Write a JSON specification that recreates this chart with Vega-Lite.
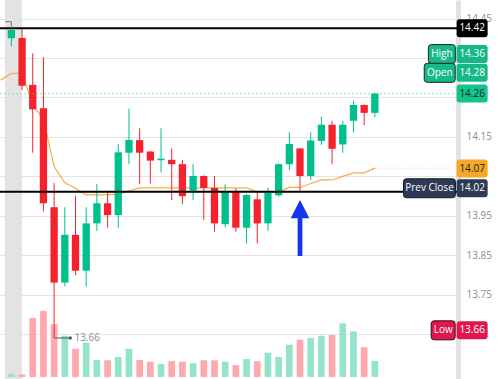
{
  "$schema": "https://vega.github.io/schema/vega-lite/v6.json",
  "width": 458,
  "height": 379,
  "autosize": {"type": "none"},
  "padding": {"left": 0, "top": 0, "right": 42, "bottom": 0},
  "background": "#ffffff",
  "config": {"view": {"stroke": null}},
  "datasets": {
    "candles": [
      {"i":0,"o":14.400,"h":14.423,"l":14.380,"c":14.421,"v":3},
      {"i":1,"o":14.401,"h":14.423,"l":14.269,"c":14.280,"v":2.5},
      {"i":2,"o":14.282,"h":14.362,"l":14.110,"c":14.220,"v":59},
      {"i":3,"o":14.223,"h":14.352,"l":13.961,"c":13.982,"v":66},
      {"i":4,"o":13.972,"h":14.033,"l":13.652,"c":13.781,"v":52.7},
      {"i":5,"o":13.781,"h":13.972,"l":13.771,"c":13.902,"v":41.3},
      {"i":6,"o":13.902,"h":14.001,"l":13.800,"c":13.811,"v":28.3},
      {"i":7,"o":13.811,"h":13.972,"l":13.771,"c":13.931,"v":34.3},
      {"i":8,"o":13.931,"h":14.031,"l":13.912,"c":13.982,"v":17},
      {"i":9,"o":13.982,"h":14.010,"l":13.920,"c":13.952,"v":16.7},
      {"i":10,"o":13.952,"h":14.132,"l":13.920,"c":14.111,"v":20},
      {"i":11,"o":14.110,"h":14.222,"l":14.081,"c":14.142,"v":28.3},
      {"i":12,"o":14.142,"h":14.172,"l":14.030,"c":14.110,"v":17},
      {"i":13,"o":14.113,"h":14.115,"l":14.032,"c":14.090,"v":15.3},
      {"i":14,"o":14.091,"h":14.172,"l":14.060,"c":14.095,"v":13},
      {"i":15,"o":14.092,"h":14.121,"l":13.990,"c":14.081,"v":16},
      {"i":16,"o":14.081,"h":14.092,"l":13.980,"c":14.000,"v":15.3},
      {"i":17,"o":14.014,"h":14.081,"l":13.990,"c":14.051,"v":13.7},
      {"i":18,"o":14.051,"h":14.053,"l":13.940,"c":14.021,"v":16.7},
      {"i":19,"o":14.021,"h":14.051,"l":13.910,"c":13.931,"v":16.7},
      {"i":20,"o":13.929,"h":14.030,"l":13.921,"c":14.011,"v":15.3},
      {"i":21,"o":14.011,"h":14.020,"l":13.910,"c":13.920,"v":12},
      {"i":22,"o":13.920,"h":14.005,"l":13.880,"c":14.003,"v":18},
      {"i":23,"o":13.992,"h":14.011,"l":13.880,"c":13.931,"v":15.7},
      {"i":24,"o":13.931,"h":14.022,"l":13.912,"c":14.009,"v":24.3},
      {"i":25,"o":14.002,"h":14.083,"l":13.999,"c":14.081,"v":20},
      {"i":26,"o":14.081,"h":14.162,"l":14.066,"c":14.132,"v":32.3},
      {"i":27,"o":14.121,"h":14.122,"l":14.014,"c":14.051,"v":37.3},
      {"i":28,"o":14.051,"h":14.162,"l":14.041,"c":14.141,"v":39},
      {"i":29,"o":14.140,"h":14.201,"l":14.130,"c":14.181,"v":41.3},
      {"i":30,"o":14.181,"h":14.191,"l":14.081,"c":14.120,"v":42},
      {"i":31,"o":14.131,"h":14.191,"l":14.110,"c":14.181,"v":53.7},
      {"i":32,"o":14.191,"h":14.242,"l":14.161,"c":14.231,"v":45.7},
      {"i":33,"o":14.231,"h":14.232,"l":14.180,"c":14.211,"v":29.7},
      {"i":34,"o":14.211,"h":14.262,"l":14.200,"c":14.260,"v":16}
    ],
    "ma": [
      {"i":-1,"ma":14.294},{"i":0,"ma":14.311},{"i":1,"ma":14.311},{"i":2,"ma":14.231},
      {"i":3,"ma":14.195},{"i":4,"ma":14.075},{"i":5,"ma":14.034},{"i":6,"ma":14.020},
      {"i":7,"ma":14.003},{"i":8,"ma":14.003},{"i":9,"ma":14.003},{"i":10,"ma":14.005},
      {"i":11,"ma":14.013},{"i":12,"ma":14.021},{"i":13,"ma":14.021},{"i":14,"ma":14.021},
      {"i":15,"ma":14.021},{"i":16,"ma":14.021},{"i":17,"ma":14.021},{"i":18,"ma":14.021},
      {"i":19,"ma":14.021},{"i":20,"ma":14.021},{"i":21,"ma":14.021},{"i":22,"ma":14.021},
      {"i":23,"ma":14.011},{"i":24,"ma":14.011},{"i":25,"ma":14.011},{"i":26,"ma":14.022},
      {"i":27,"ma":14.022},{"i":28,"ma":14.032},{"i":29,"ma":14.041},{"i":30,"ma":14.041},
      {"i":31,"ma":14.050},{"i":32,"ma":14.059},{"i":33,"ma":14.059},{"i":34,"ma":14.071}
    ],
    "levels": [{"level": 14.4252}, {"level": 14.0113}],
    "badges": [
      {"label":"14.42","value":14.4252,"kind":"line"},
      {"label":"14.36","value":14.36,"kind":"high"},
      {"label":"14.28","value":14.28,"kind":"open"},
      {"label":"14.26","value":14.26,"kind":"last"},
      {"label":"14.07","value":14.07,"kind":"ma"},
      {"label":"14.02","value":14.02,"kind":"prev"},
      {"label":"13.66","value":13.66,"kind":"low"}
    ],
    "tags": [
      {"tag":"High","value":14.36,"kind":"high"},
      {"tag":"Open","value":14.28,"kind":"open"},
      {"tag":"Prev Close","value":14.02,"kind":"prev"},
      {"tag":"Low","value":13.66,"kind":"low"}
    ]
  },
  "resolve": {"scale": {"y": "independent"}, "axis": {"y": "independent"}},
  "layer": [
    {
      "data": {"values": [{}]},
      "mark": {"type": "rect", "color": "#e3e3e3"},
      "encoding": {
        "x": {"datum": -0.595, "type": "quantitative", "scale": {"domain": [-0.595, 41.31], "nice": false, "zero": false}, "axis": null},
        "x2": {"datum": 0.99}
      }
    },
    {
      "data": {"name": "candles"},
      "mark": {"type": "bar", "width": 6.7},
      "encoding": {
        "x": {"field": "i", "type": "quantitative", "scale": {"domain": [-0.595, 41.31], "nice": false, "zero": false}, "axis": null},
        "y": {"field": "v", "type": "quantitative", "scale": {"domain": [-2, 377], "nice": false, "zero": false}, "axis": null},
        "y2": {"datum": 0},
        "color": {"condition": {"test": "datum.c >= datum.o", "value": "#95e3ca"}, "value": "#ffa8ad"}
      }
    },
    {
      "data": {"name": "ma"},
      "mark": {"type": "line", "color": "#f5ad45", "strokeWidth": 1.2, "clip": true},
      "encoding": {
        "x": {"field": "i", "type": "quantitative", "scale": {"domain": [-0.595, 41.31], "nice": false, "zero": false},
              "axis": {"values": [4, 10, 16, 22, 28, 34, 40], "grid": true, "gridColor": "#e4e4e4", "labels": false, "ticks": false, "domain": false, "title": null}},
        "y": {"field": "ma", "type": "quantitative", "scale": {"domain": [13.5367, 14.497], "nice": false, "zero": false},
              "axis": {"orient": "right", "values": [13.65, 13.75, 13.85, 13.95, 14.05, 14.15, 14.25, 14.35, 14.45], "format": ".2f",
                       "labelExpr": "indexof(['14.45','14.15','13.95','13.85','13.75'], datum.label) >= 0 ? datum.label : ''",
                       "grid": true, "gridColor": "#e4e4e4", "ticks": false, "tickSize": 0, "domain": true, "domainColor": "#e2e2e2", "domainWidth": 5,
                       "labelPadding": 8, "labelColor": "#8c8c8c", "labelFont": "Open Sans", "labelFontSize": 10, "title": null}}
      }
    },
    {
      "data": {"name": "candles"},
      "mark": {"type": "rule", "strokeWidth": 1},
      "encoding": {
        "x": {"field": "i", "type": "quantitative", "scale": {"domain": [-0.595, 41.31], "nice": false, "zero": false}, "axis": null},
        "y": {"field": "l", "type": "quantitative", "scale": {"domain": [13.5367, 14.497], "nice": false, "zero": false}, "axis": null},
        "y2": {"field": "h"},
        "color": {"condition": {"test": "datum.c >= datum.o", "value": "#00bf8c"}, "value": "#f5222d"}
      }
    },
    {
      "data": {"name": "candles"},
      "mark": {"type": "bar", "width": 7.3},
      "encoding": {
        "x": {"field": "i", "type": "quantitative", "scale": {"domain": [-0.595, 41.31], "nice": false, "zero": false}, "axis": null},
        "y": {"field": "o", "type": "quantitative", "scale": {"domain": [13.5367, 14.497], "nice": false, "zero": false}, "axis": null},
        "y2": {"field": "c"},
        "color": {"condition": {"test": "datum.c >= datum.o", "value": "#00bf8c"}, "value": "#f5222d"}
      }
    },
    {
      "data": {"values": [{}]},
      "mark": {"type": "rule", "color": "#f5ad45", "opacity": 0.6, "strokeDash": [1, 2], "strokeWidth": 1},
      "encoding": {
        "x": {"datum": 34, "type": "quantitative", "scale": {"domain": [-0.595, 41.31], "nice": false, "zero": false}, "axis": null},
        "x2": {"datum": 41.31},
        "y": {"datum": 14.071, "type": "quantitative", "scale": {"domain": [13.5367, 14.497], "nice": false, "zero": false}, "axis": null}
      }
    },
    {
      "data": {"values": [{}]},
      "mark": {"type": "rule", "color": "#3cc79b", "opacity": 0.75, "strokeDash": [1.5, 2.5], "strokeWidth": 1},
      "encoding": {
        "y": {"datum": 14.2596, "type": "quantitative", "scale": {"domain": [13.5367, 14.497], "nice": false, "zero": false}, "axis": null}
      }
    },
    {
      "data": {"name": "levels"},
      "mark": {"type": "rule", "color": "#000000", "strokeWidth": 2},
      "encoding": {
        "y": {"field": "level", "type": "quantitative", "scale": {"domain": [13.5367, 14.497], "nice": false, "zero": false}, "axis": null}
      }
    },
    {
      "data": {"values": [{}]},
      "mark": {"type": "rule", "color": "#5a5a5a", "strokeWidth": 1},
      "encoding": {
        "x": {"datum": 4, "type": "quantitative", "scale": {"domain": [-0.595, 41.31], "nice": false, "zero": false}, "axis": null},
        "y": {"datum": 13.652, "type": "quantitative", "scale": {"domain": [13.5367, 14.497], "nice": false, "zero": false}, "axis": null},
        "y2": {"datum": 13.6406}
      }
    },
    {
      "data": {"values": [{}]},
      "mark": {"type": "rule", "color": "#5a5a5a", "strokeWidth": 1},
      "encoding": {
        "x": {"datum": 4, "type": "quantitative", "scale": {"domain": [-0.595, 41.31], "nice": false, "zero": false}, "axis": null},
        "x2": {"datum": 5.51},
        "y": {"datum": 13.6406, "type": "quantitative", "scale": {"domain": [13.5367, 14.497], "nice": false, "zero": false}, "axis": null}
      }
    },
    {
      "data": {"values": [{}]},
      "mark": {"type": "point", "shape": "circle", "filled": true, "size": 12, "color": "#5a5a5a", "opacity": 1},
      "encoding": {
        "x": {"datum": 5.51, "type": "quantitative", "scale": {"domain": [-0.595, 41.31], "nice": false, "zero": false}, "axis": null},
        "y": {"datum": 13.6406, "type": "quantitative", "scale": {"domain": [13.5367, 14.497], "nice": false, "zero": false}, "axis": null}
      }
    },
    {
      "data": {"values": [{}]},
      "mark": {"type": "text", "align": "left", "baseline": "middle", "font": "Open Sans", "fontSize": 10, "color": "#8c8c8c"},
      "encoding": {
        "x": {"datum": 5.9, "type": "quantitative", "scale": {"domain": [-0.595, 41.31], "nice": false, "zero": false}, "axis": null},
        "y": {"datum": 13.6406, "type": "quantitative", "scale": {"domain": [13.5367, 14.497], "nice": false, "zero": false}, "axis": null},
        "text": {"value": "13.66"}
      }
    },
    {
      "data": {"values": [{}]},
      "mark": {"type": "rule", "color": "#777777", "strokeWidth": 1},
      "encoding": {
        "x": {"datum": 0, "type": "quantitative", "scale": {"domain": [-0.595, 41.31], "nice": false, "zero": false}, "axis": null},
        "y": {"datum": 14.4252, "type": "quantitative", "scale": {"domain": [13.5367, 14.497], "nice": false, "zero": false}, "axis": null},
        "y2": {"datum": 14.442}
      }
    },
    {
      "data": {"values": [{}]},
      "mark": {"type": "rule", "color": "#777777", "strokeWidth": 1},
      "encoding": {
        "x": {"datum": -0.595, "type": "quantitative", "scale": {"domain": [-0.595, 41.31], "nice": false, "zero": false}, "axis": null},
        "x2": {"datum": 0},
        "y": {"datum": 14.442, "type": "quantitative", "scale": {"domain": [13.5367, 14.497], "nice": false, "zero": false}, "axis": null}
      }
    },
    {
      "data": {"name": "badges"},
      "transform": [{"filter": "datum.kind !== 'open'"}],
      "mark": {"type": "point", "filled": true, "opacity": 1, "size": 961,
               "shape": "M-0.806,-0.581H0.806Q1,-0.581 1,-0.387V0.387Q1,0.581 0.806,0.581H-0.806Q-1,0.581 -1,0.387V-0.387Q-1,-0.581 -0.806,-0.581Z"},
      "encoding": {
        "x": {"datum": 43.1, "type": "quantitative", "scale": {"domain": [-0.595, 41.31], "nice": false, "zero": false}, "axis": null},
        "y": {"field": "value", "type": "quantitative", "scale": {"domain": [13.5367, 14.497], "nice": false, "zero": false}, "axis": null},
        "fill": {"field": "kind", "type": "nominal", "legend": null,
                 "scale": {"domain": ["line", "high", "open", "last", "ma", "prev", "low"],
                           "range": ["#000000", "#16b888", "#16b888", "#12c48e", "#f6a726", "#2d3a56", "#e0174f"]}}
      }
    },
    {
      "data": {"name": "badges"},
      "transform": [{"filter": "datum.kind !== 'open'"}],
      "mark": {"type": "text", "align": "center", "baseline": "middle", "font": "Open Sans", "fontSize": 10},
      "encoding": {
        "x": {"datum": 43.1, "type": "quantitative", "scale": {"domain": [-0.595, 41.31], "nice": false, "zero": false}, "axis": null},
        "y": {"field": "value", "type": "quantitative", "scale": {"domain": [13.5367, 14.497], "nice": false, "zero": false}, "axis": null},
        "text": {"field": "label"},
        "color": {"condition": {"test": "datum.kind === 'last' || datum.kind === 'ma'", "value": "#10231c"}, "value": "#ffffff"}
      }
    },
    {
      "data": {"name": "badges"},
      "transform": [{"filter": "datum.kind === 'open'"}],
      "mark": {"type": "point", "filled": true, "opacity": 1, "size": 961, "yOffset": -12.8,
               "shape": "M-0.806,-0.581H0.806Q1,-0.581 1,-0.387V0.387Q1,0.581 0.806,0.581H-0.806Q-1,0.581 -1,0.387V-0.387Q-1,-0.581 -0.806,-0.581Z"},
      "encoding": {
        "x": {"datum": 43.1, "type": "quantitative", "scale": {"domain": [-0.595, 41.31], "nice": false, "zero": false}, "axis": null},
        "y": {"field": "value", "type": "quantitative", "scale": {"domain": [13.5367, 14.497], "nice": false, "zero": false}, "axis": null},
        "fill": {"field": "kind", "type": "nominal", "legend": null,
                 "scale": {"domain": ["line", "high", "open", "last", "ma", "prev", "low"],
                           "range": ["#000000", "#16b888", "#16b888", "#12c48e", "#f6a726", "#2d3a56", "#e0174f"]}}
      }
    },
    {
      "data": {"name": "badges"},
      "transform": [{"filter": "datum.kind === 'open'"}],
      "mark": {"type": "text", "align": "center", "baseline": "middle", "font": "Open Sans", "fontSize": 10, "yOffset": -12.8, "color": "#ffffff"},
      "encoding": {
        "x": {"datum": 43.1, "type": "quantitative", "scale": {"domain": [-0.595, 41.31], "nice": false, "zero": false}, "axis": null},
        "y": {"field": "value", "type": "quantitative", "scale": {"domain": [13.5367, 14.497], "nice": false, "zero": false}, "axis": null},
        "text": {"field": "label"}
      }
    },
    {
      "data": {"name": "tags"},
      "transform": [{"filter": "datum.tag === 'High'"}],
      "mark": {"type": "point", "filled": true, "opacity": 1, "size": 729, "stroke": "#1c2622", "strokeWidth": 1,
               "shape": "M-0.778,-0.704H0.778Q1,-0.704 1,-0.481V0.481Q1,0.704 0.778,0.704H-0.778Q-1,0.704 -1,0.481V-0.481Q-1,-0.704 -0.778,-0.704Z"},
      "encoding": {
        "x": {"datum": 40.27, "type": "quantitative", "scale": {"domain": [-0.595, 41.31], "nice": false, "zero": false}, "axis": null},
        "y": {"field": "value", "type": "quantitative", "scale": {"domain": [13.5367, 14.497], "nice": false, "zero": false}, "axis": null},
        "fill": {"field": "kind", "type": "nominal", "legend": null,
                 "scale": {"domain": ["line", "high", "open", "last", "ma", "prev", "low"],
                           "range": ["#000000", "#16b888", "#16b888", "#12c48e", "#f6a726", "#2d3a56", "#e0174f"]}}
      }
    },
    {
      "data": {"name": "tags"},
      "transform": [{"filter": "datum.tag === 'Open'"}],
      "mark": {"type": "point", "filled": true, "opacity": 1, "size": 961, "stroke": "#1c2622", "strokeWidth": 1, "yOffset": -12.8,
               "shape": "M-0.806,-0.613H0.806Q1,-0.613 1,-0.419V0.419Q1,0.613 0.806,0.613H-0.806Q-1,0.613 -1,0.419V-0.419Q-1,-0.613 -0.806,-0.613Z"},
      "encoding": {
        "x": {"datum": 40.07, "type": "quantitative", "scale": {"domain": [-0.595, 41.31], "nice": false, "zero": false}, "axis": null},
        "y": {"field": "value", "type": "quantitative", "scale": {"domain": [13.5367, 14.497], "nice": false, "zero": false}, "axis": null},
        "fill": {"field": "kind", "type": "nominal", "legend": null,
                 "scale": {"domain": ["line", "high", "open", "last", "ma", "prev", "low"],
                           "range": ["#000000", "#16b888", "#16b888", "#12c48e", "#f6a726", "#2d3a56", "#e0174f"]}}
      }
    },
    {
      "data": {"name": "tags"},
      "transform": [{"filter": "datum.tag === 'Prev Close'"}],
      "mark": {"type": "point", "filled": true, "opacity": 1, "size": 2704, "stroke": "#141a26", "strokeWidth": 1,
               "shape": "M-0.885,-0.365H0.885Q1,-0.365 1,-0.25V0.25Q1,0.365 0.885,0.365H-0.885Q-1,0.365 -1,0.25V-0.25Q-1,-0.365 -0.885,-0.365Z"},
      "encoding": {
        "x": {"datum": 39.11, "type": "quantitative", "scale": {"domain": [-0.595, 41.31], "nice": false, "zero": false}, "axis": null},
        "y": {"field": "value", "type": "quantitative", "scale": {"domain": [13.5367, 14.497], "nice": false, "zero": false}, "axis": null},
        "fill": {"field": "kind", "type": "nominal", "legend": null,
                 "scale": {"domain": ["line", "high", "open", "last", "ma", "prev", "low"],
                           "range": ["#000000", "#16b888", "#16b888", "#12c48e", "#f6a726", "#2d3a56", "#e0174f"]}}
      }
    },
    {
      "data": {"name": "tags"},
      "transform": [{"filter": "datum.tag === 'Low'"}],
      "mark": {"type": "point", "filled": true, "opacity": 1, "size": 576, "stroke": "#2a1016", "strokeWidth": 1,
               "shape": "M-0.75,-0.792H0.75Q1,-0.792 1,-0.542V0.542Q1,0.792 0.75,0.792H-0.75Q-1,0.792 -1,0.542V-0.542Q-1,-0.792 -0.75,-0.792Z"},
      "encoding": {
        "x": {"datum": 40.39, "type": "quantitative", "scale": {"domain": [-0.595, 41.31], "nice": false, "zero": false}, "axis": null},
        "y": {"field": "value", "type": "quantitative", "scale": {"domain": [13.5367, 14.497], "nice": false, "zero": false}, "axis": null},
        "fill": {"field": "kind", "type": "nominal", "legend": null,
                 "scale": {"domain": ["line", "high", "open", "last", "ma", "prev", "low"],
                           "range": ["#000000", "#16b888", "#16b888", "#12c48e", "#f6a726", "#2d3a56", "#e0174f"]}}
      }
    },
    {
      "data": {"name": "tags"},
      "transform": [{"filter": "datum.tag === 'High'"}],
      "mark": {"type": "text", "align": "center", "baseline": "middle", "font": "Open Sans", "fontSize": 10, "color": "#ffffff"},
      "encoding": {
        "x": {"datum": 40.27, "type": "quantitative", "scale": {"domain": [-0.595, 41.31], "nice": false, "zero": false}, "axis": null},
        "y": {"field": "value", "type": "quantitative", "scale": {"domain": [13.5367, 14.497], "nice": false, "zero": false}, "axis": null},
        "text": {"field": "tag"}
      }
    },
    {
      "data": {"name": "tags"},
      "transform": [{"filter": "datum.tag === 'Open'"}],
      "mark": {"type": "text", "align": "center", "baseline": "middle", "font": "Open Sans", "fontSize": 10, "color": "#ffffff", "yOffset": -12.8},
      "encoding": {
        "x": {"datum": 40.07, "type": "quantitative", "scale": {"domain": [-0.595, 41.31], "nice": false, "zero": false}, "axis": null},
        "y": {"field": "value", "type": "quantitative", "scale": {"domain": [13.5367, 14.497], "nice": false, "zero": false}, "axis": null},
        "text": {"field": "tag"}
      }
    },
    {
      "data": {"name": "tags"},
      "transform": [{"filter": "datum.tag === 'Prev Close'"}],
      "mark": {"type": "text", "align": "center", "baseline": "middle", "font": "Open Sans", "fontSize": 10, "color": "#ffffff"},
      "encoding": {
        "x": {"datum": 39.11, "type": "quantitative", "scale": {"domain": [-0.595, 41.31], "nice": false, "zero": false}, "axis": null},
        "y": {"field": "value", "type": "quantitative", "scale": {"domain": [13.5367, 14.497], "nice": false, "zero": false}, "axis": null},
        "text": {"field": "tag"}
      }
    },
    {
      "data": {"name": "tags"},
      "transform": [{"filter": "datum.tag === 'Low'"}],
      "mark": {"type": "text", "align": "center", "baseline": "middle", "font": "Open Sans", "fontSize": 10, "color": "#ffffff"},
      "encoding": {
        "x": {"datum": 40.39, "type": "quantitative", "scale": {"domain": [-0.595, 41.31], "nice": false, "zero": false}, "axis": null},
        "y": {"field": "value", "type": "quantitative", "scale": {"domain": [13.5367, 14.497], "nice": false, "zero": false}, "axis": null},
        "text": {"field": "tag"}
      }
    },
    {
      "data": {"values": [{}]},
      "mark": {"type": "point", "filled": true, "opacity": 1, "size": 3136, "color": "#1434f0",
               "shape": "M0,-1L0.333,-0.346L0.084,-0.346L0.084,1L-0.084,1L-0.084,-0.346L-0.333,-0.346Z"},
      "encoding": {
        "x": {"datum": 27, "type": "quantitative", "scale": {"domain": [-0.595, 41.31], "nice": false, "zero": false}, "axis": null},
        "y": {"datum": 13.9193, "type": "quantitative", "scale": {"domain": [13.5367, 14.497], "nice": false, "zero": false}, "axis": null}
      }
    }
  ]
}
